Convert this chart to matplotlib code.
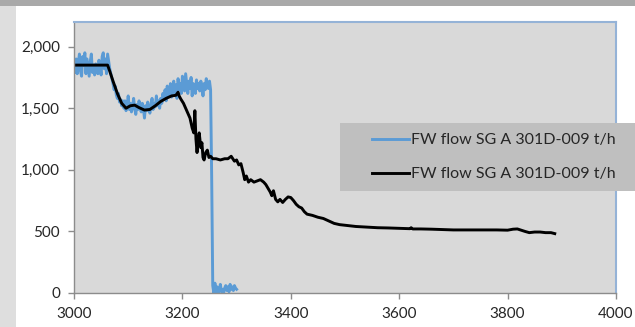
import numpy as np
import matplotlib
matplotlib.use("Agg")
import matplotlib.pyplot as plt
from matplotlib.patches import Rectangle
from matplotlib.ticker import FuncFormatter

plt.rcParams['font.family'] = ['Lato', 'DejaVu Sans']

# ===============================
# data
# ===============================
blue_x = np.arange(3000, 3301, 2)
blue_y = [
    # 3000 - 3064
    1850, 1790, 1900, 1780, 1870, 1940, 1800, 1760, 1920, 1850, 1950, 1780, 1900,
    1830, 1760, 1880, 1940, 1790, 1850, 1770, 1860, 1800, 1780, 1890, 1840, 1770,
    1920, 1950, 1820, 1900, 1780, 1940, 1880,
    # 3066 - 3090
    1820, 1780, 1740, 1700, 1650, 1680, 1610, 1580, 1620, 1550, 1570, 1520, 1560,
    # 3092 - 3160
    1500, 1560, 1480, 1520, 1600, 1490, 1540, 1470, 1510, 1580, 1500, 1450, 1530,
    1490, 1560, 1510, 1470, 1540, 1500, 1420, 1520, 1480, 1550, 1500, 1460, 1530,
    1580, 1490, 1540, 1510, 1600, 1520, 1560, 1500, 1580,
    # 3162 - 3252
    1540, 1620, 1580, 1650, 1560, 1680, 1600, 1640, 1700, 1590, 1660, 1720, 1620,
    1690, 1580, 1740, 1650, 1700, 1620, 1760, 1680, 1640, 1780, 1700, 1620, 1720,
    1660, 1750, 1600, 1700, 1680, 1620, 1730, 1660, 1700, 1640, 1720, 1680, 1600,
    1700, 1650, 1740, 1690, 1660, 1720, 1650,
    # 3254 - 3300
    950, 60, 0, 80, 10, 50, 0, 20, 70, 10, 30, 0, 40, 60, 20, 50, 10, 70, 30, 50,
    20, 60, 40, 30,
]

black_x = [3000, 3062, 3066, 3072, 3080, 3088, 3096, 3104, 3112, 3120, 3130, 3140,
           3150, 3160, 3170, 3180, 3188, 3192, 3194, 3197, 3202, 3208, 3214, 3218,
           3221, 3223, 3225, 3227, 3229, 3231, 3234, 3236, 3238, 3240, 3243, 3246,
           3249, 3252, 3256, 3262, 3270, 3278, 3284, 3290, 3296, 3300, 3304, 3308,
           3312, 3315, 3318, 3322, 3326, 3332, 3338, 3344, 3350, 3354, 3358, 3362,
           3365, 3368, 3372, 3376, 3380, 3385, 3390, 3395, 3400, 3405, 3410, 3415,
           3420, 3425, 3430, 3440, 3450, 3460, 3470, 3480, 3490, 3500, 3520, 3540,
           3560, 3580, 3600, 3620, 3622, 3625, 3640, 3660, 3680, 3700, 3720, 3740,
           3760, 3780, 3800, 3810, 3818, 3825, 3832, 3840, 3850, 3860, 3870, 3880,
           3887]
black_y = [1850, 1850, 1800, 1720, 1620, 1540, 1500, 1520, 1525, 1505, 1485, 1490,
           1520, 1555, 1580, 1600, 1605, 1630, 1600, 1575, 1540, 1480, 1420, 1340,
           1300, 1480, 1250, 1140, 1250, 1300, 1180, 1220, 1100, 1080, 1140, 1160,
           1100, 1110, 1090, 1090, 1080, 1090, 1090, 1110, 1070, 1080, 1040, 1050,
           980, 920, 950, 900, 920, 900, 910, 920, 900, 880, 850, 820,
           790, 830, 760, 740, 760, 735, 760, 780, 775, 750, 720, 700,
           690, 660, 640, 630, 615, 605, 585, 565, 555, 550, 540, 535,
           530, 528, 525, 522, 530, 520, 520, 518, 515, 512, 512, 512,
           512, 512, 510, 518, 520, 510, 500, 490, 495, 495, 490, 490,
           482]

series_label = "FW flow SG A 301D-009 t/h"
x_ticks = [3000, 3200, 3400, 3600, 3800, 4000]
y_ticks = [0, 500, 1000, 1500, 2000]

# ===============================
# figure
# ===============================
fig = plt.figure(figsize=(6.35, 3.27), dpi=100)

# screenshot frame (grey band on top and left)
fig.add_artist(Rectangle((0, 0), 16 / 635, 1, transform=fig.transFigure,
                         facecolor="#dedede", edgecolor="none", zorder=-2))
fig.add_artist(Rectangle((0, 1 - 6 / 327), 1, 6 / 327, transform=fig.transFigure,
                         facecolor="#a9a9a9", edgecolor="none", zorder=-1))

ax = fig.add_axes([74 / 635, 34 / 327, 542 / 635, 271 / 327])
ax.set_facecolor("#d9d9d9")

ax.plot(blue_x, blue_y, color="#5b9bd5", linewidth=2.1, label=series_label)
ax.plot(black_x, black_y, color="black", linewidth=2.1, label=series_label)

ax.set_xlim(3000, 4000)
ax.set_ylim(0, 2200)
ax.set_xticks(x_ticks)
ax.set_yticks(y_ticks)
ax.yaxis.set_major_formatter(FuncFormatter(lambda v, p: f"{int(v):,}"))

for s in ["top", "right"]:
    ax.spines[s].set_color("#95b3d7")
    ax.spines[s].set_linewidth(1.5)
for s in ["left", "bottom"]:
    ax.spines[s].set_color("#8c8c8c")
    ax.spines[s].set_linewidth(1.0)

ax.tick_params(direction="out", length=4, width=1, color="#8c8c8c",
               labelsize=11, labelcolor="#262626")
ax.tick_params(axis="y", pad=6)
ax.tick_params(axis="x", pad=6)

# legend box sticking out to the right
fig.add_artist(Rectangle((340 / 635, 136 / 327), 300 / 635, 68 / 327,
                         transform=fig.transFigure, facecolor="#bfbfbf",
                         edgecolor="none", zorder=5))
leg = fig.legend(loc="upper left", bbox_to_anchor=(372 / 635, 194 / 327),
                 frameon=False, fontsize=11.5, borderpad=0, borderaxespad=0,
                 handlelength=2.3, handletextpad=0.15, labelspacing=1.25)
leg.set_zorder(6)
for t in leg.get_texts():
    t.set_color("#262626")

fig.savefig("out.png", dpi=100)
